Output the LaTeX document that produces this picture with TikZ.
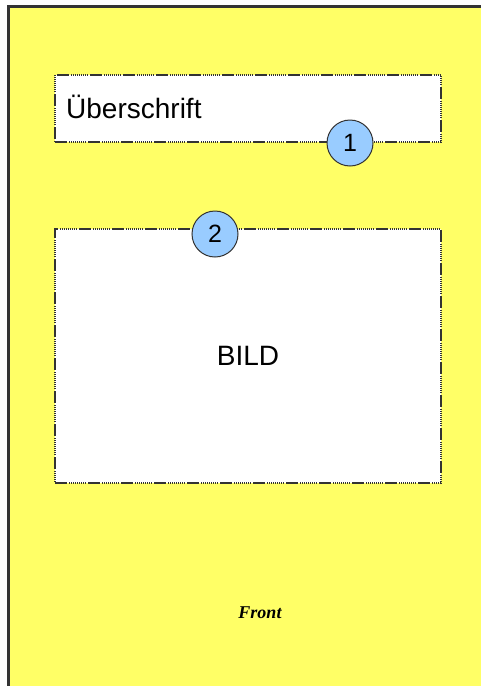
\documentclass[tikz,border=0pt]{standalone}
\usepackage{fontspec}
\setmainfont{Liberation Sans}
\newfontfamily\frontfont{Liberation Serif}
\definecolor{pageyellow}{HTML}{FFFF66}
\definecolor{markblue}{HTML}{99CCFF}
\definecolor{edgegray}{HTML}{333333}
\tikzset{
  framebox/.style={draw=edgegray, fill=white, line width=1.4pt,
    dash pattern=on 12pt off 2pt on 1pt off 1pt on 1pt off 1pt on 1pt off 1pt on 1pt off 1pt on 1pt off 1pt on 1pt off 1pt on 1pt off 1pt on 1pt off 1pt on 1pt off 2pt,
    minimum width=386pt, inner sep=0pt},
  marker/.style={circle, draw=edgegray, fill=markblue, line width=1pt,
    minimum size=46pt, inner sep=0pt, font=\fontsize{25}{27}\selectfont}
}
\begin{document}
\begin{tikzpicture}[x=1pt,y=-1pt]
\useasboundingbox (0,0) rectangle (481,686);
\fill[white] (0,0) rectangle (481,686);
% page
\begin{scope}
\clip (0,0) rectangle (481,686);
\draw[edgegray, line width=3pt, fill=pageyellow] (8.5,6.5) rectangle (540,740);
\end{scope}

% title field
\node[framebox, minimum height=67pt] (title) at (248,108.5) {};
\node[anchor=base west, inner sep=0pt, font=\fontsize{28}{30}\selectfont] (titletext) at (66,118) {Überschrift};
\node[marker] (m1) at (350,143) {1};

% picture field
\node[framebox, minimum height=254pt] (bild) at (248,356)
  {\fontsize{28}{30}\selectfont BILD};
\node[marker] (m2) at (215,234) {2};

% label
\node[font=\frontfont\bfseries\itshape\fontsize{18}{20}\selectfont] (front) at (260,613) {Front};
\end{tikzpicture}
\end{document}
